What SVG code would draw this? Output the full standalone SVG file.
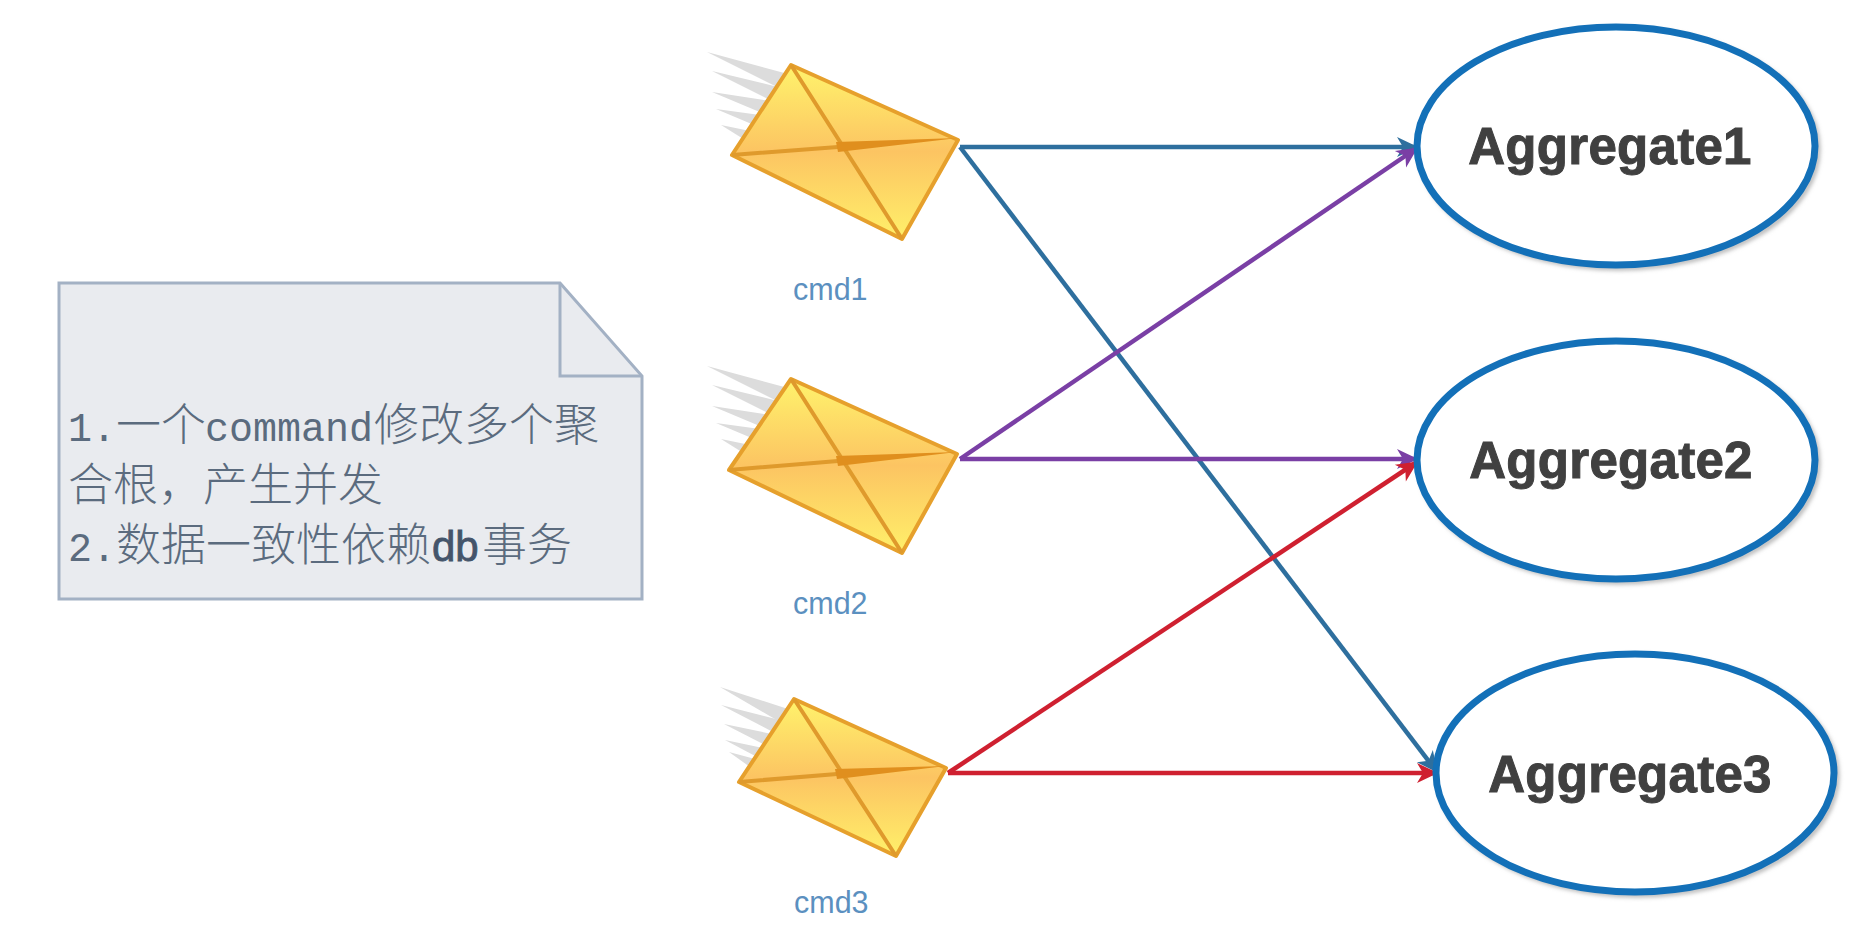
<svg xmlns="http://www.w3.org/2000/svg" width="1864" height="950" viewBox="0 0 1864 950">
<style>
.edge{fill:none;stroke-width:4.5}
.blue{stroke:#2e6f9e}.purple{stroke:#7a3fa5}.red{stroke:#cf2030}
.streak{fill:#dcdcdc}
.env{fill:url(#envFill);stroke:#e6a02c;stroke-width:4;stroke-linejoin:round}
.fold{fill:none;stroke:#df9a2c;stroke-width:4}
.flap{fill:#e08f1e;stroke:none}
.cmd{font:30.5px "Liberation Sans",sans-serif;fill:#5b90c0}
.agg{fill:#fff;stroke:#1370b8;stroke-width:7}
.shadow{fill:none;stroke:#b5b5b5;stroke-width:5;filter:url(#soft)}
.aggt{font:bold 51px "Liberation Sans",sans-serif;fill:#404040;stroke:#404040;stroke-width:1;text-anchor:middle;letter-spacing:.3px}
.note{fill:#e9ebef;stroke:#a3b1c4;stroke-width:3}
.nt{font-family:"Noto Sans CJK SC",sans-serif;font-size:45px;font-weight:300;fill:#5b6b7e}
.nm{font-family:"Liberation Mono",monospace;font-size:40px;fill:#5b6b7e}
.nb{font-family:"Liberation Sans",sans-serif;font-size:42px;fill:#44546a;stroke:#44546a;stroke-width:.8}
</style>
<defs>
<linearGradient id="envFill" x1="0" y1="0" x2="0" y2="1">
<stop offset="0" stop-color="#fff36c"/><stop offset=".5" stop-color="#fcc462"/><stop offset="1" stop-color="#fff06a"/>
</linearGradient>
<filter id="soft" x="-5%" y="-5%" width="110%" height="110%"><feGaussianBlur stdDeviation="2"/></filter>
<marker id="ab" markerUnits="userSpaceOnUse" markerWidth="24" markerHeight="24" refX="21" refY="12" orient="auto"><path d="M1,2 L22,12 L1,22 L7,12Z" fill="#2e6f9e"/></marker>
<marker id="ap" markerUnits="userSpaceOnUse" markerWidth="24" markerHeight="24" refX="21" refY="12" orient="auto"><path d="M1,2 L22,12 L1,22 L7,12Z" fill="#7a3fa5"/></marker>
<marker id="ar" markerUnits="userSpaceOnUse" markerWidth="24" markerHeight="24" refX="21" refY="12" orient="auto"><path d="M1,2 L22,12 L1,22 L7,12Z" fill="#cf2030"/></marker>
</defs>
<rect width="1864" height="950" fill="#fff"/>

<g id="note">
<path class="note" d="M59,283H560L642,376V599H59Z"/>
<path class="note" style="fill:none" d="M560,283V376H642"/>
<text class="nm" x="68" y="441">1.</text>
<text class="nt" x="116" y="441">一个</text>
<text class="nm" x="205" y="441">command</text>
<text class="nt" x="374" y="441">修改多个聚</text>
<text class="nt" x="68" y="501">合根，产生并发</text>
<text class="nm" x="68" y="561">2.</text>
<text class="nt" x="116" y="561">数据一致性依赖</text>
<text class="nb" x="432" y="561">db</text>
<text class="nt" x="482" y="561">事务</text>
</g>

<g id="connectors">
<path class="edge blue" marker-end="url(#ab)" d="M960,147H1417"/>
<path class="edge blue" marker-end="url(#ab)" d="M960,147L1437,772"/>
<path class="edge purple" marker-end="url(#ap)" d="M960,459L1417,148"/>
<path class="edge purple" marker-end="url(#ap)" d="M960,459H1417"/>
<path class="edge red" marker-end="url(#ar)" d="M948,773L1417,462"/>
<path class="edge red" marker-end="url(#ar)" d="M948,773H1437"/>
</g>

<g id="cmd1">
<polygon class="streak" points="707,52 788,74 779,88"/><polygon class="streak" points="712,71 778,87 770,100"/><polygon class="streak" points="712,92 770,101 762,113"/><polygon class="streak" points="716,109 760,115 754,125"/><polygon class="streak" points="721,125 750,131 745,140"/>
<polygon class="env" points="791,65 958,140 902,239 732,155"/>
<path class="fold" d="M791,65L902,239M732,155L838,147"/><polygon class="flap" points="836,142 958,138 838,152"/>
<text class="cmd" x="793" y="300">cmd1</text>
</g>
<g id="cmd2">
<polygon class="streak" points="707,366 788,388 779,402"/><polygon class="streak" points="712,385 778,401 770,414"/><polygon class="streak" points="712,406 770,415 762,427"/><polygon class="streak" points="716,423 760,429 754,439"/><polygon class="streak" points="721,439 750,445 745,454"/>
<polygon class="env" points="791,379 957,454 902,553 729,470"/>
<path class="fold" d="M791,379L902,553M729,470L838,461"/><polygon class="flap" points="836,456 957,452 838,466"/>
<text class="cmd" x="793" y="614">cmd2</text>
</g>
<g id="cmd3">
<polygon class="streak" points="720,687 788,709 780,722"/><polygon class="streak" points="721,705 780,720 773,732"/><polygon class="streak" points="724,724 772,734 765,745"/><polygon class="streak" points="725,740 763,748 757,757"/><polygon class="streak" points="729,752 755,759 750,767"/>
<polygon class="env" points="794,699 946,768 896,856 739,782"/>
<path class="fold" d="M794,699L896,856M739,782L837,774"/><polygon class="flap" points="835,769 946,766 837,779"/>
<text class="cmd" x="794" y="913">cmd3</text>
</g>

<g id="aggregate1">
<ellipse class="shadow" cx="1619" cy="149" rx="199" ry="119"/><ellipse class="agg" cx="1616" cy="146" rx="199" ry="119"/>
<text class="aggt" x="1610" y="164">Aggregate1</text>
</g>
<g id="aggregate2">
<ellipse class="shadow" cx="1619" cy="463" rx="199" ry="119"/><ellipse class="agg" cx="1616" cy="460" rx="199" ry="119"/>
<text class="aggt" x="1611" y="478">Aggregate2</text>
</g>
<g id="aggregate3">
<ellipse class="shadow" cx="1638" cy="776" rx="199" ry="119"/><ellipse class="agg" cx="1635" cy="773" rx="199" ry="119"/>
<text class="aggt" x="1630" y="792">Aggregate3</text>
</g>
</svg>
